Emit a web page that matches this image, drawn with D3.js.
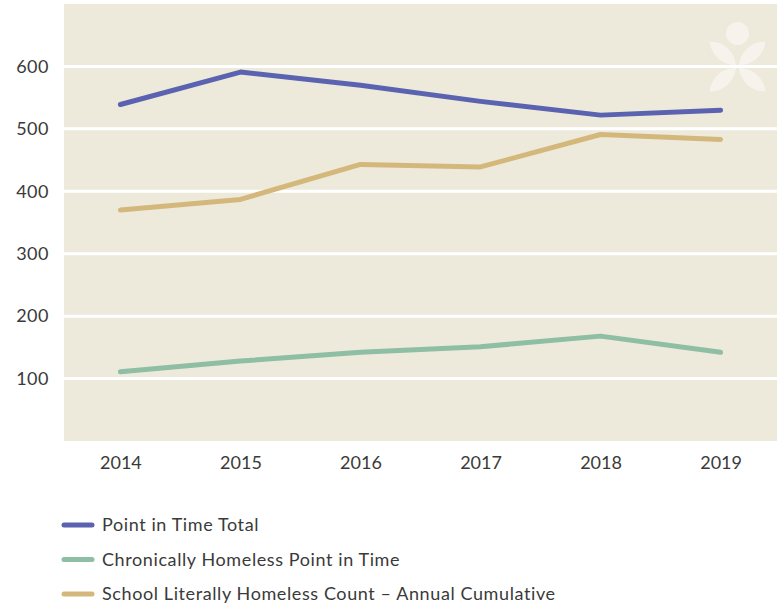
<!DOCTYPE html>
<html>
<head>
<meta charset="utf-8">
<script src="https://cdn.jsdelivr.net/npm/d3@7"></script>
<style>
  body { margin: 0; background: #fff; }
  svg { display: block; font-family: Lato, "Open Sans", sans-serif; }
</style>
</head>
<body>
<svg id="chart" width="777" height="612"></svg>
<script>
// chart data
const years = ['2014', '2015', '2016', '2017', '2018', '2019'];
const pitTotal = [539, 591, 570, 544, 522, 530];
const chronic = [111, 128, 142, 151, 168, 142];
const school = [370, 387, 443, 439, 491, 483];
const yTicks = [100, 200, 300, 400, 500, 600];

const seriesNames = [
  'Point in Time Total',
  'Chronically Homeless Point in Time',
  'School Literally Homeless Count \u2013 Annual Cumulative'
];
const seriesColors = ['#5b63b0', '#8ebea3', '#d4b87b'];
const seriesValues = [pitTotal, chronic, school];

const svg = d3.select('#chart');
const plot = { left: 64, right: 777, top: 4, bottom: 441 };
const textColor = '#3a3a3a';

const x = d3.scalePoint()
  .domain(years)
  .range([plot.left, plot.right])
  .padding(0.47);

const y = d3.scaleLinear()
  .domain([0, 700])
  .range([plot.bottom, plot.top]);

// background panel
svg.append('rect')
  .attr('x', plot.left)
  .attr('y', plot.top)
  .attr('width', plot.right - plot.left)
  .attr('height', plot.bottom - plot.top)
  .attr('fill', '#edeadc');

// gridlines
svg.append('g')
  .selectAll('line')
  .data(yTicks)
  .join('line')
  .attr('x1', plot.left)
  .attr('x2', plot.right)
  .attr('y1', d => y(d))
  .attr('y2', d => y(d))
  .attr('stroke', '#fff')
  .attr('stroke-width', 3);

// faint flower logo in the corner
const logo = svg.append('g')
  .attr('transform', 'translate(737.5,66.5)')
  .attr('fill', '#fff')
  .attr('opacity', 0.45);
logo.append('circle').attr('cx', 0).attr('cy', -33).attr('r', 11.5);
[[-1, -1], [1, -1], [-1, 1], [1, 1]].forEach(([sx, sy]) => {
  const ax = sx * 1.5, ay = sy * 1.5;
  const bx = sx * 28, by = sy * 25;
  const r = 26;
  const sweep = sx * sy > 0 ? 1 : 0;
  logo.append('path')
    .attr('d', `M${ax},${ay} A${r},${r} 0 0 ${sweep} ${bx},${by} A${r},${r} 0 0 ${sweep} ${ax},${ay} Z`);
});

// y axis labels
const yAxis = svg.append('g')
  .attr('transform', `translate(${plot.left},0)`)
  .call(d3.axisLeft(y).tickValues(yTicks).tickSize(0).tickPadding(15));
yAxis.select('.domain').remove();
yAxis.selectAll('text')
  .attr('font-size', 18)
  .attr('letter-spacing', 0.5)
  .attr('font-family', 'Lato, "Open Sans", sans-serif')
  .attr('fill', textColor);

// x axis labels
const xAxis = svg.append('g')
  .attr('transform', `translate(0,${plot.bottom})`)
  .call(d3.axisBottom(x).tickSize(0).tickPadding(15));
xAxis.select('.domain').remove();
xAxis.selectAll('text')
  .attr('font-size', 18)
  .attr('font-family', 'Lato, "Open Sans", sans-serif')
  .attr('fill', textColor);

// lines
const line = d3.line()
  .x((d, i) => x(years[i]))
  .y(d => y(d));

svg.append('g')
  .selectAll('path')
  .data(seriesValues)
  .join('path')
  .attr('d', d => line(d))
  .attr('fill', 'none')
  .attr('stroke', (d, i) => seriesColors[i])
  .attr('stroke-width', 5)
  .attr('stroke-linecap', 'round')
  .attr('stroke-linejoin', 'round');

// legend
const legend = svg.append('g')
  .selectAll('g')
  .data(seriesNames)
  .join('g')
  .attr('transform', (d, i) => `translate(0,${525 + i * 34.5})`);

legend.append('line')
  .attr('x1', 64)
  .attr('x2', 92)
  .attr('stroke', (d, i) => seriesColors[i])
  .attr('stroke-width', 5)
  .attr('stroke-linecap', 'round');

legend.append('text')
  .attr('x', 102)
  .attr('dy', '0.35em')
  .attr('font-size', 18)
  .attr('letter-spacing', 0.6)
  .attr('fill', textColor)
  .text(d => d);
</script>
</body>
</html>
